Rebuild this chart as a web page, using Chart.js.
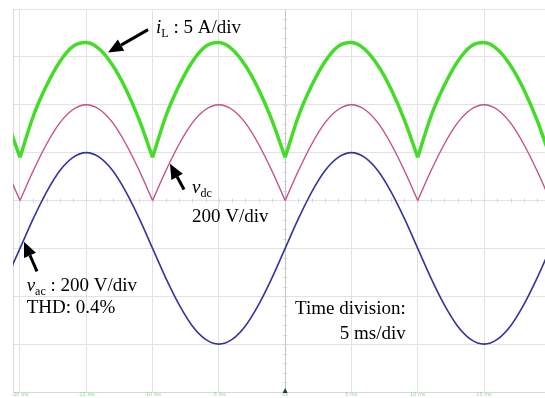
<!DOCTYPE html>
<html>
<head>
<meta charset="utf-8">
<script src="https://cdn.jsdelivr.net/npm/chart.js@4.4.1/dist/chart.umd.min.js"></script>
<style>
  html, body { margin: 0; padding: 0; background: #fff; }
  #wrap { width: 545px; height: 398px; }
</style>
</head>
<body>
<div id="wrap"><canvas id="scopeChart"></canvas></div>
<script>
// samples, 1 ms apart
const timeMs = [-21, -20, -19, -18, -17, -16, -15, -14, -13, -12, -11, -10, -9, -8, -7, -6, -5, -4, -3, -2, -1,
                0, 1, 2, 3, 4, 5, 6, 7, 8, 9, 10, 11, 12, 13, 14, 15, 16, 17, 18, 19, 20];
const vacVolts = [-124, 0, 124, 235, 324, 380, 400, 380, 324, 235, 124, 0, -124, -235, -324, -380, -400, -380, -324, -235, -124,
                  0, 124, 235, 324, 380, 400, 380, 324, 235, 124, 0, -124, -235, -324, -380, -400, -380, -324, -235, -124, 0];
const vdcVolts = [124, 0, 124, 235, 324, 380, 400, 380, 324, 235, 124, 0, 124, 235, 324, 380, 400, 380, 324, 235, 124,
                  0, 124, 235, 324, 380, 400, 380, 324, 235, 124, 0, 124, 235, 324, 380, 400, 380, 324, 235, 124, 0];
const iLAmps = [3.4, -0.5, 3.8, 7.0, 9.5, 11.1, 11.5, 10.8, 9.1, 6.6, 3.4, -0.5, 3.8, 7.0, 9.5, 11.1, 11.5, 10.8, 9.1, 6.6, 3.4,
                -0.5, 3.8, 7.0, 9.5, 11.1, 11.5, 10.8, 9.1, 6.6, 3.4, -0.5, 3.8, 7.0, 9.5, 11.1, 11.5, 10.8, 9.1, 6.6, 3.4, -0.5];
const timeTicks = [-20, -15, -10, -5, 0, 5, 10, 15];
const timeTickLabels = ['-20 ms', '-15 ms', '-10 ms', '-5 ms', '0s', '5 ms', '10 ms', '15 ms'];

// channel settings: units per division and trace offset in divisions
const voltsPerDiv = 200;
const ampsPerDiv = 5;
const vacOffset = -1;
const vdcOffset = 0;
const iLOffset = 1;

const toDiv = (vals, perDiv, offset) => vals.map((v, i) => ({ x: timeMs[i], y: v / perDiv + offset }));

// rectified traces have sharp valleys: break the curve there so the spline keeps the corner
function keepCusps(points) {
    const out = [];
    points.forEach((p, i) => {
        out.push(p);
        const prev = points[i - 1], next = points[i + 1];
        if (prev && next && p.y < prev.y && p.y < next.y) {
            out.push({ x: p.x, y: null });
            out.push({ x: p.x, y: p.y });
        }
    });
    return out;
}

const SERIF = '"Liberation Serif", "Times New Roman", serif';
const GRID = '#e2e2e2';
const TXT = 19, SUB = 12;

// helpers for the hand-written labels on the scope shot
function richText(ctx, x, y, parts, align) {
    let width = 0;
    parts.forEach(p => {
        ctx.font = (p.italic ? 'italic ' : '') + (p.sub ? SUB : TXT) + 'px ' + SERIF;
        p.w = ctx.measureText(p.text).width;
        width += p.w;
    });
    let cx = align === 'right' ? x - width : x;
    parts.forEach(p => {
        ctx.font = (p.italic ? 'italic ' : '') + (p.sub ? SUB : TXT) + 'px ' + SERIF;
        ctx.fillText(p.text, cx, p.sub ? y + 4 : y);
        cx += p.w;
    });
}

function arrow(ctx, x1, y1, x2, y2) {
    const ang = Math.atan2(y2 - y1, x2 - x1);
    const head = 15, half = 6.5;
    const bx = x2 - head * Math.cos(ang), by = y2 - head * Math.sin(ang);
    ctx.beginPath();
    ctx.moveTo(x1, y1);
    ctx.lineTo(bx, by);
    ctx.lineWidth = 3;
    ctx.strokeStyle = '#000';
    ctx.stroke();
    ctx.beginPath();
    ctx.moveTo(x2, y2);
    ctx.lineTo(bx + half * Math.sin(ang), by - half * Math.cos(ang));
    ctx.lineTo(bx - half * Math.sin(ang), by + half * Math.cos(ang));
    ctx.closePath();
    ctx.fillStyle = '#000';
    ctx.fill();
}

const scopeMarks = {
    id: 'scopeMarks',
    beforeDatasetsDraw(chart) {
        const { ctx, scales: { x, y }, chartArea } = chart;
        const cx = x.getPixelForValue(0), cy = y.getPixelForValue(0);
        ctx.save();
        ctx.strokeStyle = '#d4d4d4';
        ctx.lineWidth = 1;
        ctx.beginPath();
        for (let t = Math.ceil(x.min); t <= x.max; t++) {
            const px = Math.round(x.getPixelForValue(t)) + 0.5;
            ctx.moveTo(px, cy - 2);
            ctx.lineTo(px, cy + 2);
        }
        for (let d = -4; d <= 4; d += 0.2) {
            const py = Math.round(y.getPixelForValue(d)) + 0.5;
            ctx.moveTo(cx - 2, py);
            ctx.lineTo(cx + 2, py);
        }
        ctx.stroke();
        // trigger marker
        ctx.fillStyle = '#333';
        ctx.beginPath();
        ctx.moveTo(cx, chartArea.bottom - 4);
        ctx.lineTo(cx - 2.5, chartArea.bottom + 1);
        ctx.lineTo(cx + 2.5, chartArea.bottom + 1);
        ctx.closePath();
        ctx.fill();
        ctx.restore();
    },
    afterDatasetsDraw(chart) {
        const { ctx, scales: { x, y } } = chart;
        const P = (t, d) => [x.getPixelForValue(t), y.getPixelForValue(d)];
        ctx.save();
        ctx.fillStyle = '#000';
        ctx.textBaseline = 'alphabetic';

        let p = P(-9.74, 3.49);
        richText(ctx, p[0], p[1], [{ text: 'i', italic: true }, { text: 'L', sub: true }, { text: ' : 5 A/div' }]);
        arrow(ctx, ...P(-10.34, 3.57), ...P(-13.36, 3.09));

        p = P(-7.03, 0.15);
        richText(ctx, p[0], p[1], [{ text: 'v', italic: true }, { text: 'dc', sub: true }]);
        p = P(-7.03, -0.44);
        richText(ctx, p[0], p[1], [{ text: '200 V/div' }]);
        arrow(ctx, ...P(-7.63, 0.23), ...P(-8.69, 0.77));

        p = P(-19.5, -1.88);
        richText(ctx, p[0], p[1], [{ text: 'v', italic: true }, { text: 'ac', sub: true }, { text: ' : 200 V/div' }]);
        p = P(-19.5, -2.34);
        richText(ctx, p[0], p[1], [{ text: 'THD: 0.4%' }]);
        arrow(ctx, ...P(-18.72, -1.48), ...P(-19.70, -0.86));

        p = P(9.1, -2.38);
        richText(ctx, p[0], p[1], [{ text: 'Time division:' }], 'right');
        p = P(9.1, -2.9);
        richText(ctx, p[0], p[1], [{ text: '5 ms/div' }], 'right');
        ctx.restore();
    }
};

const ctx = document.getElementById('scopeChart').getContext('2d');
const scopeChart = new Chart(ctx, {
    type: 'line',
    data: {
        datasets: [
            {
                label: 'v_ac',
                data: toDiv(vacVolts, voltsPerDiv, vacOffset),
                borderColor: '#34349c',
                borderWidth: 1.6,
            },
            {
                label: 'v_dc',
                data: keepCusps(toDiv(vdcVolts, voltsPerDiv, vdcOffset)),
                borderColor: '#c4508a',
                borderWidth: 1.4,
            },
            {
                label: 'i_L',
                data: keepCusps(toDiv(iLAmps, ampsPerDiv, iLOffset)),
                borderColor: '#44dc28',
                borderWidth: 3.5,
            }
        ]
    },
    options: {
        responsive: true,
        maintainAspectRatio: false,
        animation: false,
        layout: { padding: { top: 9, right: 0, left: 0, bottom: 0 } },
        elements: {
            point: { radius: 0 },
            line: { cubicInterpolationMode: 'monotone', fill: false }
        },
        plugins: {
            legend: { display: false },
            tooltip: { enabled: false }
        },
        scales: {
            x: {
                type: 'linear',
                min: -20.528,
                max: 19.6,
                afterBuildTicks: s => { s.ticks = timeTicks.map(v => ({ value: v })); },
                afterFit: s => { s.height = 6; },
                ticks: {
                    padding: 0,
                    maxRotation: 0,
                    autoSkip: false,
                    color: '#8ad68a',
                    font: { size: 5, family: 'DejaVu Sans' },
                    callback: v => timeTickLabels[timeTicks.indexOf(v)]
                },
                grid: {
                    drawTicks: false,
                    color: c => (c.tick && c.tick.value === 0) ? '#c4c4c4' : GRID
                },
                border: { color: '#d8d8d8' }
            },
            y: {
                min: -4,
                max: 4,
                afterFit: s => { s.width = 13; },
                ticks: { display: false, stepSize: 1 },
                grid: { drawTicks: false, color: GRID },
                border: { color: '#d8d8d8' }
            }
        }
    },
    plugins: [scopeMarks]
});
</script>
</body>
</html>
